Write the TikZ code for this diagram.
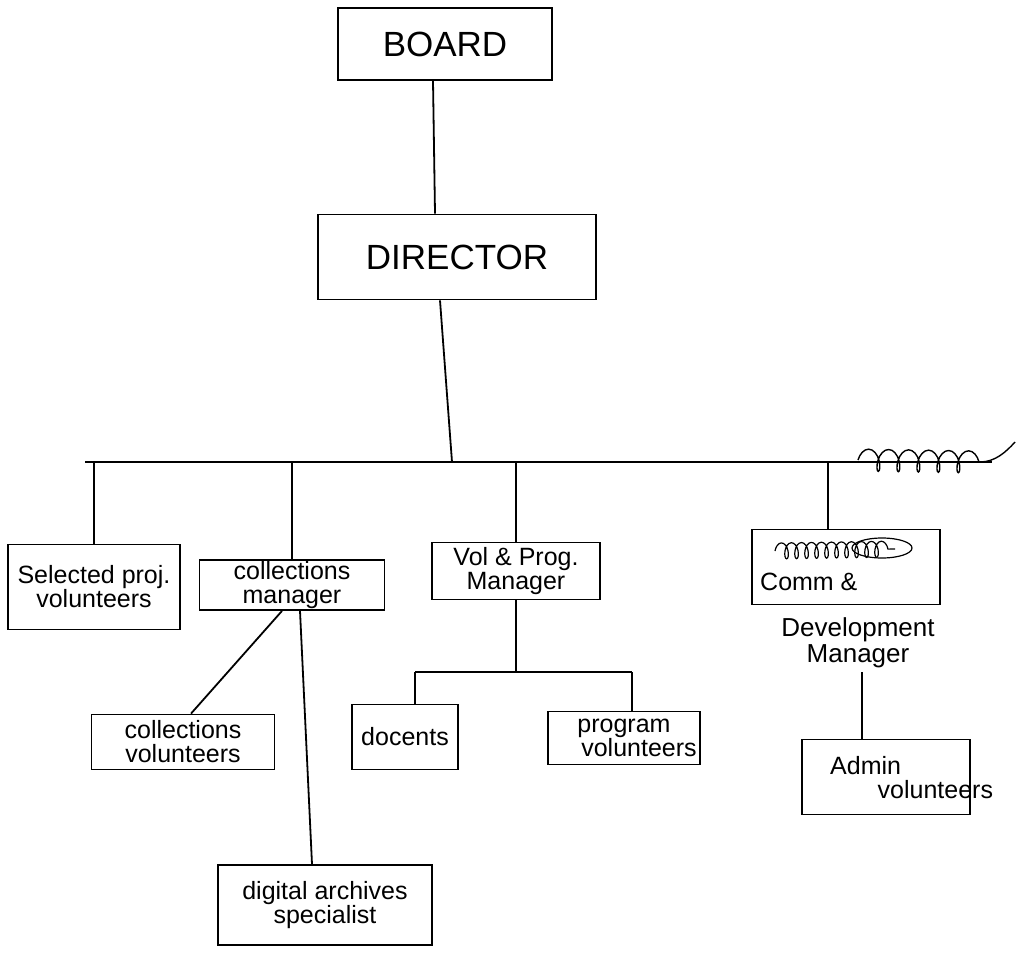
\documentclass[tikz,border=0pt]{standalone}
\usepackage{fontspec}
\setmainfont{Liberation Sans}
\usetikzlibrary{decorations.pathmorphing}
\begin{document}
\begin{tikzpicture}[x=1pt,y=-1pt,
  box/.style={draw, line width=1.8pt, inner sep=0pt, align=center, font=\fontsize{25}{24}\selectfont},
  bigbox/.style={box, font=\fontsize{35}{36}\selectfont},
  txt/.style={inner sep=0pt, align=center, font=\fontsize{25}{24}\selectfont},
  link/.style={draw, line width=1.8pt}
]
\useasboundingbox (0,0) rectangle (1024,958);
\fill[white] (0,0) rectangle (1024,958);

% nodes
\node[bigbox, minimum width=214, minimum height=72] (board) at (445,44) {BOARD};
\node[bigbox, minimum width=278, minimum height=85] (director) at (457,257) {DIRECTOR};

\node[box, minimum width=172, minimum height=85] (sel) at (94,587) {Selected proj.\\volunteers};
\node[box, minimum width=185, minimum height=50] (colm) at (292,585) {collections\\manager};
\node[box, minimum width=168, minimum height=57] (vpm) at (516,571) {Vol \& Prog.\\Manager};
\node[box, minimum width=188, minimum height=75] (comm) at (846,567) {};
\node[txt, anchor=west] (commtxt) at (760,582) {Comm \&};
\node[txt, font=\fontsize{26}{26}\selectfont, inner sep=4pt] (devm) at (858,643) {Development\\Manager};

\node[box, minimum width=183, minimum height=55] (colv) at (183,742) {collections\\volunteers};
\node[box, minimum width=214, minimum height=80] (dig) at (325,905) {digital archives\\specialist};
\node[box, minimum width=106, minimum height=65] (doc) at (405,737) {docents};
\node[box, minimum width=152, minimum height=53] (progv) at (624,738) {program\\\hspace*{1.2em}volunteers};
\node[box, minimum width=168, minimum height=75] (admin) at (886,777) {};
\node[txt, align=left, anchor=west] (admintxt) at (830,778) {Admin\\\hspace*{1.9em}volunteers};

% scribbled-out word in the Comm box
\draw[line width=1.2pt, decorate, decoration={coil, amplitude=8pt, segment length=10pt}]
  (775,551) -- (895,549);
\draw[line width=1.2pt] (882,548) ellipse [x radius=30, y radius=10];

% bus
\coordinate (bL) at (85,462);
\coordinate (bR) at (992,462);
\draw[link] ([xshift=-12]board.south) -- ([xshift=-22]director.north);
\draw[link] ([xshift=-17]director.south) -- ([xshift=-5]director.south |- bL);
\draw[link] (bL) -- (bR);
\draw[line width=1.4pt, decorate, decoration={coil, amplitude=11pt, segment length=20pt}]
  (858,460) -- (980,462);
\draw[line width=1.4pt] (980,462) .. controls (995,462) and (1006,452) .. (1015,442);

\draw[link] (sel.north) -- (sel.north |- bL);
\draw[link] (colm.north) -- (colm.north |- bL);
\draw[link] (vpm.north) -- (vpm.north |- bL);
\draw[link] ([xshift=-18]comm.north) -- ([xshift=-18]comm.north |- bL);

% collections manager children
\draw[link] ([xshift=-10]colm.south) -- ([xshift=8]colv.north);
\draw[link] ([xshift=8]colm.south) -- ([xshift=-13]dig.north);

% vol & prog manager children
\coordinate (j) at (516,672);
\draw[link] (vpm.south) -- (j);
\draw[link] ([xshift=10]doc.north |- j) -- ([xshift=8]progv.north |- j);
\draw[link] ([xshift=10]doc.north |- j) -- ([xshift=10]doc.north);
\draw[link] ([xshift=8]progv.north |- j) -- ([xshift=8]progv.north);

% development manager to admin
\draw[link] ([xshift=4]devm.south) -- ([xshift=4]devm.south |- admin.north);
\end{tikzpicture}
\end{document}
